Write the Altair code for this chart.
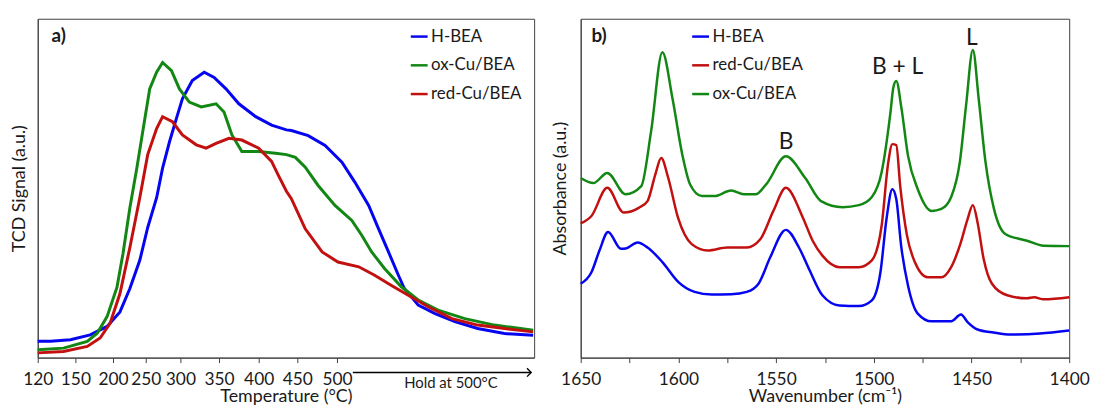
import altair as alt
import pandas as pd

FONT = "Lato"
TXT = "#1a1a1a"
C_BLUE = "#0505f0"
C_GREEN = "#138713"
C_RED = "#c21010"

# ---------------- panel a: NH3-TPD ----------------
tpd_tick_pos = [0, 38, 76, 109, 144, 183, 223, 262, 302]
tpd_tick_labels = ["120", "150", "200", "250", "300", "350", "400", "450", "500"]

hbea_t = [0, 13, 33, 53, 70, 83, 93, 103, 111, 120, 126, 133, 140, 146, 156, 168, 178, 190, 203, 220,
          236, 251, 256, 273, 290, 307, 320, 334, 344, 354, 364, 370, 384, 401, 421, 444, 471, 500]
hbea_v = [4.8, 4.8, 5.3, 6.7, 9.2, 13.5, 20.4, 28.7, 38.4, 47.2, 55.9, 63.7, 70.6, 76.4, 81.8, 84.2, 82.7, 79.3, 74.9, 71.1,
          68.6, 67.2, 67.0, 65.5, 62.6, 57.7, 51.8, 44.9, 38.0, 31.2, 24.3, 20.4, 15.5, 13.0, 10.6, 8.6, 7.1, 6.6]

oxcu_t = [0, 26, 50, 60, 70, 80, 86, 93, 100, 106, 113, 120, 126, 135, 143, 153, 165, 180, 188, 196,
          206, 223, 240, 251, 260, 270, 283, 300, 317, 327, 337, 350, 367, 384, 404, 431, 461, 500]
oxcu_v = [2.3, 2.8, 4.8, 7.2, 12.1, 20.8, 30.6, 44.2, 55.9, 66.7, 79.3, 84.2, 87.1, 84.7, 79.3, 75.4, 74.0, 74.9, 72.5, 65.7,
          60.8, 60.8, 60.3, 59.9, 59.1, 56.2, 50.8, 44.9, 40.5, 36.1, 31.2, 26.3, 20.9, 17.0, 14.0, 11.5, 9.6, 8.1]

redcu_t = [0, 26, 50, 63, 73, 83, 93, 103, 111, 120, 126, 136, 146, 160, 170, 180, 193, 206, 223, 236,
           243, 251, 256, 270, 287, 303, 324, 340, 357, 377, 394, 418, 444, 471, 500]
redcu_v = [1.4, 1.8, 3.3, 5.8, 10.1, 18.9, 32.5, 47.2, 59.9, 67.6, 71.1, 69.6, 65.7, 62.8, 61.8, 63.2, 64.7, 64.2, 61.8, 57.9,
           53.7, 49.1, 46.9, 38.0, 31.2, 28.2, 26.8, 24.3, 21.3, 17.9, 15.0, 11.5, 9.6, 8.6, 7.6]

tpd_names = ["H-BEA", "ox-Cu/BEA", "red-Cu/BEA"]
tpd_colors = [C_BLUE, C_GREEN, C_RED]

# ---------------- panel b: pyridine IR ----------------
ir_hbea_wn = [1650, 1644.5, 1640.4, 1636, 1629.4, 1627, 1620.8, 1615.8, 1608.2, 1600, 1591.7, 1583, 1573, 1565, 1559,
              1553, 1545, 1538.3, 1532.8, 1526.3, 1517.6, 1507.6, 1501, 1496.6, 1493.5, 1490.5, 1488.5, 1486, 1482.5,
              1477.5, 1470.4, 1460.4, 1455.4, 1452, 1446.9, 1438.7, 1430, 1415, 1400]
ir_hbea_a = [21.8, 25.2, 31.6, 37.1, 32.1, 32.2, 34.0, 32.5, 28.2, 22.3, 19.4, 18.6, 18.7, 19.4, 21.8,
             29.6, 37.7, 32.5, 25.7, 18.4, 15.4, 15.2, 16.9, 25.2, 40.9, 49.7, 46.8, 33.0, 21.3,
             13.0, 10.7, 10.7, 12.7, 10.5, 8.3, 7.4, 6.8, 7.1, 8.0]

ir_red_wn = [1650, 1644.5, 1636.4, 1628, 1620.3, 1615.8, 1611.8, 1608.8, 1605.2, 1600.2, 1593.2, 1585, 1575, 1565,
             1558, 1551.4, 1545, 1536.3, 1531.3, 1526.3, 1517.6, 1507.6, 1501, 1496, 1492.6, 1490.5, 1488.5, 1486.5,
             1483, 1479, 1472.4, 1465.4, 1460.4, 1455.4, 1452, 1449.3, 1446.9, 1443.8, 1439.5, 1431.7, 1421.6, 1418,
             1413, 1400]
ir_red_a = [39.6, 41.8, 50.1, 42.8, 44.2, 46.2, 54.1, 58.9, 53.0, 41.3, 33.5, 31.6, 32.5, 32.5,
            35.0, 43.3, 50.1, 41.3, 34.5, 30.1, 26.7, 26.7, 28.7, 38.9, 57.6, 63.0, 62.7, 50.7,
            36.0, 28.2, 23.7, 23.7, 26.7, 34.1, 40.9, 45.0, 39.9, 29.2, 21.8, 18.4, 17.5, 17.8,
            17.2, 17.8]

ir_ox_wn = [1650, 1643.5, 1636.4, 1627, 1619, 1614, 1608.2, 1603, 1598, 1594, 1588, 1581.6, 1573, 1566.5, 1560.5,
            1555, 1545, 1535, 1527, 1516, 1507.6, 1501, 1496, 1491.5, 1490, 1488.5, 1485.8, 1482.5, 1477.5, 1470.4,
            1465.4, 1460.4, 1456, 1452.8, 1449.3, 1446.3, 1442.8, 1438.5, 1432.7, 1421.6, 1413, 1400]
ir_ox_a = [53.0, 51.5, 54.5, 48.2, 50.6, 66.7, 90.1, 76.4, 59.9, 51.1, 47.7, 47.7, 49.3, 48.2, 48.2,
           51.2, 59.4, 52.9, 46.2, 44.4, 45.0, 47.4, 54.7, 72.2, 79.7, 81.6, 73.4, 59.6, 49.7, 43.3,
           43.9, 47.4, 57.6, 74.3, 90.8, 76.3, 57.6, 43.9, 36.5, 34.5, 33.0, 32.9]

ir_names = ["H-BEA", "red-Cu/BEA", "ox-Cu/BEA"]
ir_colors = [C_BLUE, C_RED, C_GREEN]

ir_ticks = [1650, 1625, 1600, 1575, 1550, 1525, 1500, 1475, 1450, 1425, 1400]

# annotations
ir_ann_text = ["B", "B + L", "L"]
ir_ann_wn = [1544.9, 1487.8, 1449.8]
ir_ann_a = [63.5, 85.7, 94.2]

# ---------------- build tables ----------------
df_a = pd.concat([
    pd.DataFrame({"t": hbea_t, "v": hbea_v, "sample": "H-BEA"}),
    pd.DataFrame({"t": oxcu_t, "v": oxcu_v, "sample": "ox-Cu/BEA"}),
    pd.DataFrame({"t": redcu_t, "v": redcu_v, "sample": "red-Cu/BEA"}),
], ignore_index=True)

df_b = pd.concat([
    pd.DataFrame({"wn": ir_hbea_wn, "A": ir_hbea_a, "sample": "H-BEA"}),
    pd.DataFrame({"wn": ir_red_wn, "A": ir_red_a, "sample": "red-Cu/BEA"}),
    pd.DataFrame({"wn": ir_ox_wn, "A": ir_ox_a, "sample": "ox-Cu/BEA"}),
], ignore_index=True)

W_A, W_B, H = 501, 493, 342
LAB = 17.5
TIT = 18
YTIT = 18

label_expr = "[" + ",".join("'%s'" % s for s in tpd_tick_labels) + "][indexof([" + \
    ",".join(str(p) for p in tpd_tick_pos) + "], datum.value)]"

xa_scale = alt.Scale(domain=[0, 501], nice=False, zero=False)
ya_scale = alt.Scale(domain=[0, 100], nice=False, zero=False)

legend_common = dict(orient="none", title=None, symbolType="stroke", symbolStrokeWidth=2.5,
                     symbolSize=289, labelFontSize=17, labelFont=FONT, labelColor=TXT,
                     rowPadding=11, labelOffset=2)

lines_a = alt.Chart(df_a).mark_line(strokeWidth=3, interpolate="linear").encode(
    x=alt.X("t:Q", scale=xa_scale,
            axis=alt.Axis(values=tpd_tick_pos, labelExpr=label_expr, title="Temperature (°C)",
                          grid=False, tickSize=5, labelFontSize=LAB, titleFontSize=TIT,
                          labelPadding=8, titlePadding=0, labelFlush=False, labelOverlap=False)),
    y=alt.Y("v:Q", scale=ya_scale,
            axis=alt.Axis(title="TCD Signal (a.u.)", labels=False, ticks=False, grid=False,
                          titleFontSize=YTIT, titlePadding=9)),
    color=alt.Color("sample:N", scale=alt.Scale(domain=tpd_names, range=tpd_colors),
                    sort=tpd_names,
                    legend=alt.Legend(legendX=375, legendY=8, **legend_common)),
    detail="sample:N",
)

hold_start = [318]
hold_end = [498]
hold_text_t = [417]
df_arrow = pd.DataFrame({"t": hold_start, "t2": hold_end, "tt": hold_text_t, "label": ["Hold at 500°C"]})

arrow_line = alt.Chart(df_arrow).mark_rule(color="black", strokeWidth=1.4).encode(
    x=alt.X("t:Q", scale=xa_scale), x2="t2:Q", y=alt.value(H + 15))
arrow_head = alt.Chart(df_arrow).mark_point(shape="M-1,-1L0,0L-1,1", filled=False, size=70,
                                            strokeWidth=1.4, color="black", opacity=1).encode(
    x=alt.X("t2:Q", scale=xa_scale), y=alt.value(H + 15))
hold_txt = alt.Chart(df_arrow).mark_text(fontSize=15, font=FONT, color=TXT).encode(
    x=alt.X("tt:Q", scale=xa_scale), y=alt.value(H + 26), text="label:N")

panel_a_lab = alt.Chart(pd.DataFrame({"t": [14], "v": [94.9], "s": ["a)"]})).mark_text(
    fontSize=19, fontWeight="bold", font=FONT, align="left", color=TXT).encode(
    x=alt.X("t:Q", scale=xa_scale), y=alt.Y("v:Q", scale=ya_scale), text="s:N")

chart_a = alt.layer(lines_a, arrow_line, arrow_head, hold_txt, panel_a_lab).properties(width=W_A, height=H)

xb_scale = alt.Scale(domain=[1650, 1400], nice=False, zero=False)
yb_scale = alt.Scale(domain=[0, 100], nice=False, zero=False)

lines_b = alt.Chart(df_b).mark_line(strokeWidth=2.5, interpolate="monotone").encode(
    x=alt.X("wn:Q", scale=xb_scale,
            axis=alt.Axis(values=ir_ticks, format="d",
                          labelExpr="datum.value % 50 == 0 ? format(datum.value, 'd') : ''",
                          title="Wavenumber (cm⁻¹)", grid=False, tickSize=5, labelFontSize=LAB,
                          titleFontSize=TIT, labelPadding=8, titlePadding=0, labelFlush=False,
                          labelOverlap=False)),
    y=alt.Y("A:Q", scale=yb_scale,
            axis=alt.Axis(title="Absorbance (a.u.)", labels=False, ticks=False, grid=False,
                          titleFontSize=YTIT, titlePadding=11)),
    color=alt.Color("sample:N", scale=alt.Scale(domain=ir_names, range=ir_colors),
                    sort=ir_names,
                    legend=alt.Legend(legendX=111, legendY=8, **legend_common)),
    detail="sample:N",
)

ann_b = alt.Chart(pd.DataFrame({"wn": ir_ann_wn, "A": ir_ann_a, "s": ir_ann_text})).mark_text(
    fontSize=23, font=FONT, color=TXT).encode(
    x=alt.X("wn:Q", scale=xb_scale), y=alt.Y("A:Q", scale=yb_scale), text="s:N")

panel_b_lab = alt.Chart(pd.DataFrame({"wn": [1644.5], "A": [94.9], "s": ["b)"]})).mark_text(
    fontSize=19, fontWeight="bold", font=FONT, align="left", color=TXT).encode(
    x=alt.X("wn:Q", scale=xb_scale), y=alt.Y("A:Q", scale=yb_scale), text="s:N")

chart_b = alt.layer(lines_b, ann_b, panel_b_lab).properties(width=W_B, height=H)

chart = alt.hconcat(chart_a, chart_b, spacing=11).resolve_scale(
    color="independent").resolve_legend(color="independent").properties(
    padding={"left": 2, "top": 8, "right": 0, "bottom": 0}
).configure_view(stroke="#404040", strokeWidth=1).configure_axis(
    labelFont=FONT, titleFont=FONT, labelColor=TXT, titleColor=TXT, titleFontWeight="normal",
    domainColor="#404040", tickColor="#404040"
)

chart.save("out.html", embed_options={"renderer": "svg", "actions": False})
